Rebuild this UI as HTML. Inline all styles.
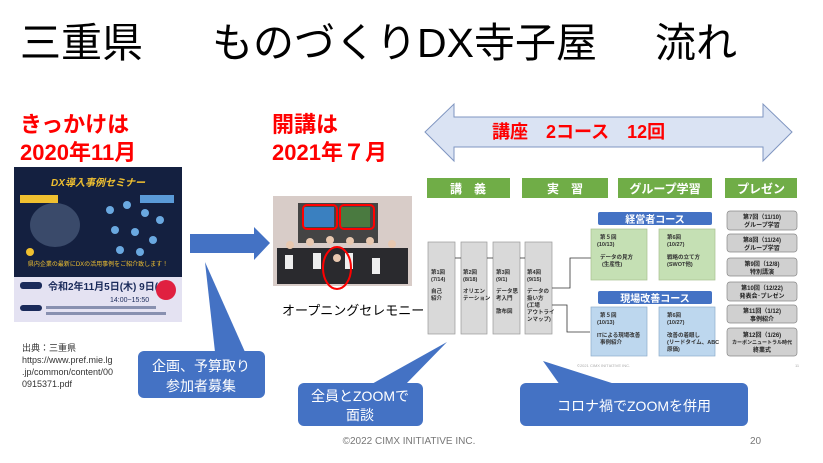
<!DOCTYPE html>
<html><head><meta charset="utf-8"><style>
html,body{margin:0;padding:0;background:#fff;}
svg{display:block;}
text{font-family:"Liberation Sans","Noto Sans CJK JP",sans-serif;}
</style></head><body>
<svg width="823" height="463" viewBox="0 0 823 463" xmlns="http://www.w3.org/2000/svg">
<text x="20" y="57" font-size="41" fill="#000">三重県</text>
<text x="212" y="57" font-size="41" fill="#000">ものづくりDX寺子屋</text>
<text x="655" y="57" font-size="41" fill="#000">流れ</text>
<text x="20" y="132" font-size="22" font-weight="bold" fill="#f00">きっかけは</text>
<text x="20" y="160" font-size="22" font-weight="bold" fill="#f00">2020年11月</text>
<text x="272" y="132" font-size="22" font-weight="bold" fill="#f00">開講は</text>
<text x="272" y="160" font-size="22" font-weight="bold" fill="#f00">2021年７月</text>

<!-- poster -->
<rect x="14" y="167" width="168" height="110" fill="#142040"/>
<rect x="14" y="277" width="168" height="45" fill="#e4e2f2"/>
<text x="98" y="186" font-size="10" font-style="italic" font-weight="bold" fill="#f0c030" text-anchor="middle">DX導入事例セミナー</text>
<rect x="20" y="195" width="38" height="8" fill="#f0c030"/>
<rect x="140" y="195" width="34" height="8" fill="#5a9ad8"/>
<ellipse cx="55" cy="225" rx="25" ry="22" fill="#3a4a6a"/>
<g fill="#6aa8e0"><circle cx="110" cy="210" r="4"/><circle cx="127" cy="205" r="4"/><circle cx="145" cy="213" r="4"/><circle cx="160" cy="220" r="4"/><circle cx="115" cy="230" r="4"/><circle cx="135" cy="232" r="4"/><circle cx="153" cy="240" r="4"/><circle cx="120" cy="250" r="4"/><circle cx="140" cy="252" r="4"/></g>
<circle cx="30" cy="252" r="4" fill="#f0c030"/>
<text x="98" y="266" font-size="6" fill="#f0c030" text-anchor="middle">県内企業の最新にDXの活用事例をご紹介致します！</text>
<rect x="20" y="282" width="22" height="7" rx="3" fill="#1a2a5a"/>
<text x="48" y="290" font-size="10" font-weight="bold" fill="#1a2a5a">令和2年11月5日(木) 9日(月)</text>
<circle cx="166" cy="290" r="10" fill="#e02040"/>
<text x="110" y="302" font-size="7" fill="#1a2a5a">14:00~15:50</text>
<rect x="20" y="305" width="22" height="6" rx="3" fill="#1a2a5a"/>
<rect x="46" y="306" width="110" height="3" fill="#8890b0"/>
<rect x="46" y="312" width="120" height="3" fill="#8890b0"/>

<g font-size="9" fill="#333"><text x="22" y="351">出典：三重県</text><text x="22" y="363">https://www.pref.mie.lg</text><text x="22" y="375">.jp/common/content/00</text><text x="22" y="387">0915371.pdf</text></g>

<!-- blue arrow -->
<polygon points="190,234 254,234 254,227 270,243 254,260 254,253 190,253" fill="#4472c4"/>

<!-- callout 1 -->
<polygon points="205,262 215,352 245,352" fill="#4472c4"/>
<rect x="138" y="351" width="127" height="47" rx="6" fill="#4472c4"/>
<text x="201" y="371" font-size="14" fill="#fff" text-anchor="middle">企画、予算取り</text>
<text x="201" y="391" font-size="14" fill="#fff" text-anchor="middle">参加者募集</text>

<!-- photo -->
<rect x="273" y="196" width="139" height="90" fill="#d8ccc8"/>
<rect x="298" y="203" width="80" height="40" fill="#444"/>
<rect x="304" y="207" width="30" height="20" fill="#3a80c0"/>
<rect x="340" y="207" width="30" height="20" fill="#4a7a40"/>
<rect x="277" y="248" width="131" height="36" fill="#2a2a2e"/>
<g fill="#eee"><rect x="285" y="255" width="8" height="14"/><rect x="313" y="253" width="8" height="16"/><rect x="345" y="253" width="8" height="16"/><rect x="372" y="258" width="8" height="16"/></g>
<g fill="#e8c8b0"><circle cx="290" cy="245" r="4"/><circle cx="310" cy="242" r="4"/><circle cx="330" cy="240" r="4"/><circle cx="350" cy="241" r="4"/><circle cx="370" cy="241" r="4"/><circle cx="392" cy="244" r="4"/><circle cx="337" cy="258" r="4"/></g>
<rect x="303" y="205" width="34" height="24" rx="4" fill="none" stroke="#f00" stroke-width="2"/>
<rect x="340" y="205" width="34" height="24" rx="4" fill="none" stroke="#f00" stroke-width="2"/>
<ellipse cx="337" cy="268" rx="14" ry="21" fill="none" stroke="#f00" stroke-width="2"/>
<text x="282" y="315" font-size="13" fill="#000">オープニングセレモニー</text>

<!-- double arrow -->
<polygon points="425,132 454,104 454,117 763,117 763,104 792,132 763,161 763,147 454,147 454,161" fill="#dae3f3" stroke="#7f95c0" stroke-width="1"/>
<text x="492" y="138" font-size="18" font-weight="bold" fill="#f00">講座　2コース　12回</text>

<!-- slide -->
<g font-size="12" font-weight="bold" fill="#fff" text-anchor="middle">
<rect x="427" y="178" width="83" height="20" fill="#70ad47"/><text x="468" y="193">講　義</text>
<rect x="522" y="178" width="86" height="20" fill="#70ad47"/><text x="565" y="193">実　習</text>
<rect x="618" y="178" width="94" height="20" fill="#70ad47"/><text x="665" y="193">グループ学習</text>
<rect x="725" y="178" width="72" height="20" fill="#70ad47"/><text x="761" y="193">プレゼン</text>
</g>
<g fill="#d9d9d9" stroke="#999" stroke-width="0.7">
<rect x="428" y="242" width="27" height="92"/><rect x="461" y="242" width="26" height="92"/><rect x="493" y="242" width="27" height="92"/><rect x="525" y="242" width="27" height="92"/>
</g>
<g font-size="5.5" fill="#333" font-weight="bold">
<text x="431" y="274">第1回</text><text x="431" y="281">(7/14)</text><text x="431" y="293">自己</text><text x="431" y="300">紹介</text>
<text x="463" y="274">第2回</text><text x="463" y="281">(8/18)</text><text x="463" y="293">オリエン</text><text x="463" y="300">テーション</text>
<text x="496" y="274">第3回</text><text x="496" y="281">(9/1)</text><text x="496" y="293">データ思</text><text x="496" y="300">考入門</text><text x="496" y="313">散布図</text>
<text x="527" y="274">第4回</text><text x="527" y="281">(9/15)</text><text x="527" y="293">データの</text><text x="527" y="300">扱い方</text><text x="527" y="307">(工場</text><text x="527" y="314">アウトライ</text><text x="527" y="321">ンマップ)</text>
</g>
<g stroke="#333" stroke-width="0.8" fill="none">
<line x1="455" y1="258" x2="461" y2="258"/><line x1="487" y1="258" x2="493" y2="258"/><line x1="520" y1="258" x2="525" y2="258"/>
<polyline points="552,288 570,288 570,258 591,258"/>
<polyline points="552,305 567,305 567,332 590,332"/>
</g>
<rect x="598" y="212" width="114" height="13" rx="2" fill="#4472c4"/>
<text x="655" y="223" font-size="10" font-weight="bold" fill="#fff" text-anchor="middle">経営者コース</text>
<rect x="591" y="229" width="56" height="51" fill="#c5e0b4" stroke="#a9c08f" stroke-width="0.7"/>
<rect x="659" y="229" width="56" height="51" fill="#c5e0b4" stroke="#a9c08f" stroke-width="0.7"/>
<rect x="598" y="291" width="114" height="13" rx="2" fill="#4472c4"/>
<text x="655" y="302" font-size="10" font-weight="bold" fill="#fff" text-anchor="middle">現場改善コース</text>
<rect x="591" y="307" width="56" height="49" fill="#bdd7ee" stroke="#8eaccb" stroke-width="0.7"/>
<rect x="659" y="307" width="56" height="49" fill="#bdd7ee" stroke="#8eaccb" stroke-width="0.7"/>
<g font-size="5.5" fill="#333" font-weight="bold">
<text x="600" y="239">第５回</text><text x="597" y="246">(10/13)</text><text x="600" y="259">データの見方</text><text x="602" y="266">(生産性)</text>
<text x="667" y="239">第6回</text><text x="667" y="246">(10/27)</text><text x="667" y="259">戦略の立て方</text><text x="667" y="266">(SWOT他)</text>
<text x="600" y="317">第５回</text><text x="597" y="324">(10/13)</text><text x="597" y="337">ITによる現場改善</text><text x="600" y="344">事例紹介</text>
<text x="667" y="317">第6回</text><text x="667" y="324">(10/27)</text><text x="667" y="337">改善の着眼し</text><text x="667" y="344">(リードタイム、ABC</text><text x="667" y="351">原価)</text>
</g>
<g fill="#d0d0d0" stroke="#888" stroke-width="0.7">
<rect x="727" y="211" width="70" height="19" rx="3"/><rect x="727" y="234" width="70" height="18" rx="3"/><rect x="727" y="258" width="70" height="18" rx="3"/><rect x="727" y="282" width="70" height="19" rx="3"/><rect x="727" y="305" width="70" height="18" rx="3"/><rect x="727" y="328" width="70" height="28" rx="3"/>
</g>
<g font-size="6" fill="#222" font-weight="bold" text-anchor="middle">
<text x="762" y="219">第7回（11/10)</text><text x="762" y="227">グループ学習</text>
<text x="762" y="242">第8回（11/24)</text><text x="762" y="250">グループ学習</text>
<text x="762" y="266">第9回（12/8)</text><text x="762" y="274">特別講演</text>
<text x="762" y="290">第10回（12/22)</text><text x="762" y="298">発表会･プレゼン</text>
<text x="762" y="313">第11回（1/12)</text><text x="762" y="321">事例紹介</text>
<text x="762" y="337">第12回（1/26)</text><text x="762" y="344" font-size="5">カーボンニュートラル時代</text><text x="762" y="352">終業式</text>
</g>
<text x="577" y="367" font-size="4" fill="#aaa">©2021 CIMX INITIATIVE INC.</text>
<text x="795" y="367" font-size="4" fill="#aaa">11</text>

<!-- callout 2 -->
<polygon points="447,342 370,385 405,385" fill="#4472c4"/>
<rect x="298" y="383" width="125" height="43" rx="6" fill="#4472c4"/>
<text x="360" y="401" font-size="14" fill="#fff" text-anchor="middle">全員とZOOMで</text>
<text x="360" y="420" font-size="14" fill="#fff" text-anchor="middle">面談</text>

<!-- callout 3 -->
<polygon points="543,361 560,385 618,385" fill="#4472c4"/>
<rect x="520" y="383" width="228" height="43" rx="6" fill="#4472c4"/>
<text x="634" y="411" font-size="14" fill="#fff" text-anchor="middle">コロナ禍でZOOMを併用</text>

<text x="409" y="444" font-size="10" fill="#777" text-anchor="middle">©2022 CIMX INITIATIVE INC.</text>
<text x="750" y="444" font-size="10" fill="#777">20</text>
</svg>
</body></html>
